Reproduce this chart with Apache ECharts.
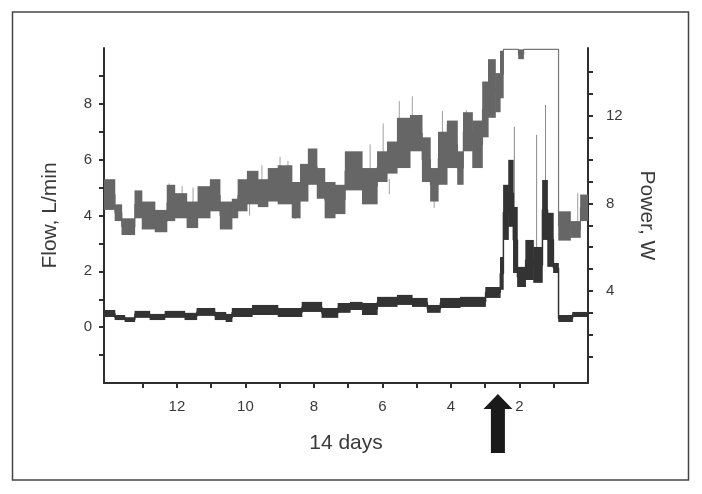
<!DOCTYPE html>
<html>
<head>
<meta charset="utf-8">
<script src="https://cdn.jsdelivr.net/npm/echarts@6/dist/echarts.min.js"></script>
<style>
  html, body { margin: 0; padding: 0; background: #fff; }
  #main { width: 702px; height: 494px; }
</style>
</head>
<body>
<div id="main"></div>
<script>
// x = days before the end of the record (axis runs 14 -> 0)
// flow trace (L/min), read as blocks: edges[i]..edges[i+1] with low / high
var flowEdges = [14.13, 13.81, 13.61, 13.23, 13.02, 12.64, 12.29, 12.06, 11.71, 11.39, 11.03, 10.74, 10.39, 10.22,
  9.95, 9.63, 9.34, 9.05, 8.64, 8.40, 8.17, 7.91, 7.68, 7.38, 7.09, 6.59, 6.15, 5.86, 5.57, 5.19, 4.84, 4.60,
  4.37, 4.11, 3.81, 3.64, 3.37, 3.08, 2.91, 2.70, 2.56, 2.47, 2.03, 1.88, 0.86, 0.51, 0.22, 0];
var flowLo = [4.2, 3.8, 3.3, 3.9, 3.5, 3.4, 3.8, 3.9, 3.55, 3.9, 4.15, 3.5, 3.9, 4.15, 4.4, 4.3, 4.5, 4.4, 3.9, 4.5,
  5.1, 4.6, 3.9, 4.05, 4.9, 4.4, 5.2, 5.5, 5.7, 6.3, 5.2, 4.5, 5.1, 5.7, 5.1, 6.3, 5.7, 6.8, 7.5, 7.7, 8.2,
  9.95, 9.6, 9.95, 3.1, 3.2, 3.8];
var flowHi = [5.3, 4.4, 3.9, 4.9, 4.5, 4.2, 5.1, 4.8, 4.5, 5.05, 5.3, 4.5, 4.6, 5.3, 5.6, 5.3, 5.7, 5.8, 5.2, 5.85,
  6.4, 5.7, 5.2, 5.1, 6.3, 5.7, 6.3, 6.65, 7.5, 7.6, 6.8, 5.7, 7.0, 7.4, 6.3, 7.7, 7.4, 8.8, 9.6, 9.1, 9.9,
  9.95, 9.95, 9.95, 4.15, 3.8, 4.75];
// thin light spikes on the flow trace
var flowSpikeDay = [12.23, 11.85, 11.53, 9.88, 9.52, 8.99, 8.76, 8.55, 6.36, 5.98, 5.80, 5.51, 5.13, 4.49, 4.25, 4.11, 3.55, 0.30];
var flowSpikeFrom = [4.5, 4.5, 4.3, 4.5, 5.2, 5.5, 5.5, 4.4, 5.6, 6.2, 5.3, 7.3, 7.5, 4.6, 6.9, 7.0, 7.5, 3.7];
var flowSpikeTo = [5.15, 5.05, 5.0, 4.0, 5.8, 6.1, 5.95, 3.87, 6.55, 7.3, 4.76, 8.1, 8.27, 4.27, 7.74, 7.27, 7.77, 4.8];

// power trace (W)
var powerEdges = [14.13, 13.81, 13.52, 13.23, 12.79, 12.35, 11.77, 11.42, 10.89, 10.57, 10.39, 9.80, 9.05, 8.35,
  7.77, 7.30, 6.94, 6.59, 6.15, 5.57, 5.13, 4.69, 4.31, 3.73, 2.99, 2.56, 2.47, 2.32, 2.18, 2.06, 1.82, 1.59,
  1.33, 1.18, 1.01, 0.86, 0.45, 0];
var powerLo = [2.81, 2.67, 2.58, 2.77, 2.67, 2.77, 2.67, 2.86, 2.67, 2.58, 2.81, 2.9, 2.81, 3.04, 2.77, 3.0, 3.13,
  2.9, 3.27, 3.36, 3.27, 3.0, 3.22, 3.27, 3.68, 4.05, 6.33, 6.93, 4.82, 4.18, 4.5, 4.37, 6.33, 5.1, 4.82, 2.58, 2.81];
var powerHi = [3.13, 2.9, 2.8, 3.09, 2.95, 3.09, 3.0, 3.22, 3.04, 2.95, 3.22, 3.36, 3.22, 3.5, 3.22, 3.45, 3.5,
  3.45, 3.73, 3.82, 3.68, 3.36, 3.68, 3.73, 4.18, 5.55, 8.85, 9.99, 7.84, 5.1, 6.33, 6.01, 9.07, 7.57, 5.28, 2.9, 3.04];
var powerSpikeDay = [2.15, 1.50, 1.24];
var powerSpikeFrom = [7.0, 6.0, 9.0];
var powerSpikeTo = [11.5, 11.13, 12.5];

var dayTicks = [1, 2, 3, 4, 5, 6, 7, 8, 9, 10, 11, 12, 13];
var dayLabels = [2, 4, 6, 8, 10, 12];
var flowTicks = [-1, 0, 1, 2, 3, 4, 5, 6, 7, 8, 9];
var flowLabels = [0, 2, 4, 6, 8];
var powerTicks = [1, 2, 3, 4, 5, 6, 7, 8, 9, 10, 11, 12, 13, 14];
var powerLabels = [4, 8, 12];
var arrowDay = 2.63;

var ink = '#2e2e2e';
var txt = '#3a3a3a';
var font = 'Liberation Sans, Arial, sans-serif';

function blocks(edges, lo, hi) {
  var out = [];
  for (var i = 0; i < lo.length; i++) out.push([edges[i], edges[i + 1], lo[i], hi[i]]);
  return out;
}
function steps(edges, lo, hi) {
  var out = [];
  for (var i = 0; i < lo.length; i++) {
    var m = (lo[i] + hi[i]) / 2;
    out.push([edges[i], m], [edges[i + 1], m]);
  }
  return out;
}
function spikes(day, from, to) {
  var out = [];
  for (var i = 0; i < day.length; i++) out.push([day[i], from[i], to[i]]);
  return out;
}
function rangeRender(color) {
  return function (params, api) {
    var a = api.coord([api.value(0), api.value(2)]);
    var b = api.coord([api.value(1), api.value(3)]);
    return {
      type: 'rect',
      shape: { x: Math.min(a[0], b[0]) - 0.3, y: Math.min(a[1], b[1]), width: Math.abs(b[0] - a[0]) + 0.6, height: Math.abs(b[1] - a[1]) },
      style: { fill: color }
    };
  };
}
function spikeRender(color) {
  return function (params, api) {
    var a = api.coord([api.value(0), api.value(1)]);
    var b = api.coord([api.value(0), api.value(2)]);
    return { type: 'line', shape: { x1: a[0], y1: a[1], x2: b[0], y2: b[1] }, style: { stroke: color, lineWidth: 1 } };
  };
}

var myChart = echarts.init(document.getElementById('main'));

var option = {
  animation: false,
  backgroundColor: '#fff',
  grid: { left: 104, top: 48, width: 484, height: 335, outerBoundsMode: 'none' },
  xAxis: {
    type: 'value', inverse: true, min: 0, max: 14.13,
    name: '14 days', nameLocation: 'middle', nameGap: 50,
    nameTextStyle: { fontSize: 21, color: txt, fontFamily: font },
    axisLine: { onZero: false, lineStyle: { color: ink, width: 2 } },
    axisTick: { customValues: dayTicks, length: 5, lineStyle: { color: ink, width: 2 } },
    axisLabel: { customValues: dayLabels, margin: 16, fontSize: 15, color: txt, fontFamily: font },
    splitLine: { show: false }
  },
  yAxis: [{
    type: 'value', position: 'left', min: -2, max: 10,
    name: 'Flow, L/min', nameLocation: 'middle', nameGap: 43,
    nameTextStyle: { fontSize: 21, color: txt, fontFamily: font },
    axisLine: { show: true, onZero: false, lineStyle: { color: ink, width: 2 } },
    axisTick: { show: true, customValues: flowTicks, length: 5, lineStyle: { color: ink, width: 2 } },
    axisLabel: { customValues: flowLabels, margin: 12, fontSize: 15, color: txt, fontFamily: font },
    splitLine: { show: false }
  }, {
    type: 'value', position: 'right', min: -0.206, max: 15.1,
    name: 'Power, W', nameLocation: 'middle', nameGap: 48, nameRotate: -90,
    nameTextStyle: { fontSize: 21, color: txt, fontFamily: font },
    axisLine: { show: true, onZero: false, lineStyle: { color: ink, width: 2 } },
    axisTick: { show: true, customValues: powerTicks, length: 5, lineStyle: { color: ink, width: 2 } },
    axisLabel: { customValues: powerLabels, margin: 18, fontSize: 15, color: txt, fontFamily: font },
    splitLine: { show: false }
  }],
  series: [{
    name: 'flow spikes', type: 'custom', yAxisIndex: 0, clip: true,
    renderItem: spikeRender('#a0a0a0'), encode: { x: 0, y: [1, 2] },
    data: spikes(flowSpikeDay, flowSpikeFrom, flowSpikeTo), z: 1
  }, {
    name: 'flow', type: 'line', yAxisIndex: 0, showSymbol: false,
    lineStyle: { color: '#777', width: 1.2 }, data: steps(flowEdges, flowLo, flowHi), z: 2
  }, {
    name: 'flow band', type: 'custom', yAxisIndex: 0, clip: true,
    renderItem: rangeRender('#666'), encode: { x: [0, 1], y: [2, 3] },
    data: blocks(flowEdges, flowLo, flowHi), z: 3
  }, {
    name: 'power spikes', type: 'custom', yAxisIndex: 1, clip: true,
    renderItem: spikeRender('#8a8a8a'), encode: { x: 0, y: [1, 2] },
    data: spikes(powerSpikeDay, powerSpikeFrom, powerSpikeTo), z: 4
  }, {
    name: 'power', type: 'line', yAxisIndex: 1, showSymbol: false,
    lineStyle: { color: '#333', width: 1.5 }, data: steps(powerEdges, powerLo, powerHi), z: 5
  }, {
    name: 'power band', type: 'custom', yAxisIndex: 1, clip: true,
    renderItem: rangeRender('#333'), encode: { x: [0, 1], y: [2, 3] },
    data: blocks(powerEdges, powerLo, powerHi), z: 6
  }]
};
myChart.setOption(option);

// frame and event arrow
var ax = myChart.convertToPixel({ xAxisIndex: 0 }, arrowDay);
myChart.setOption({
  graphic: [{
    type: 'rect', shape: { x: 12.5, y: 12, width: 676, height: 468 },
    style: { fill: 'none', stroke: '#444', lineWidth: 1.5 }, silent: true
  }, {
    type: 'polygon',
    shape: { points: [[ax, 394], [ax + 14.5, 409], [ax + 7, 409], [ax + 7, 453], [ax - 7, 453], [ax - 7, 409], [ax - 14.5, 409]] },
    style: { fill: '#1a1a1a' }, silent: true
  }]
});
</script>
</body>
</html>
